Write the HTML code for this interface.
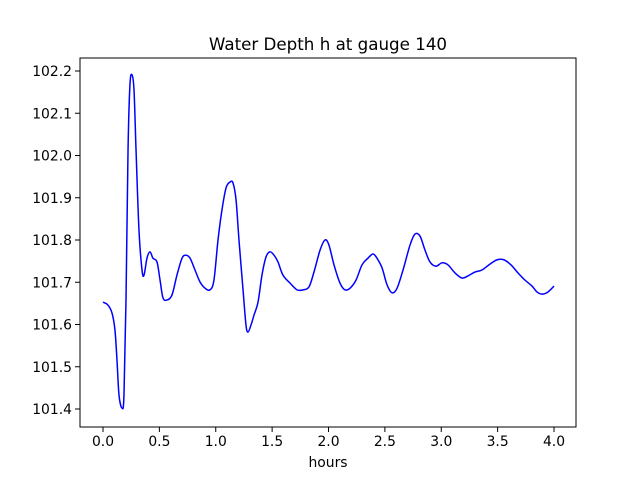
<!DOCTYPE html>
<html><head><meta charset="utf-8"><style>
body{margin:0;background:#fff;font-family:"Liberation Sans","DejaVu Sans",sans-serif;}
text{font-family:"DejaVu Sans","Liberation Sans",sans-serif;}
</style></head><body>
<svg id="chart" width="640" height="480" xmlns="http://www.w3.org/2000/svg">
<rect width="640" height="480" fill="#fff"/>
<text x="328" y="50" text-anchor="middle" font-size="16.7">Water Depth h at gauge 140</text>
<text x="328" y="467" text-anchor="middle" font-size="13.9">hours</text>
<g id="plot"></g>
<rect x="80" y="58" width="496" height="369" fill="none" stroke="#000" stroke-width="1"/>
</svg>
<script>
const hours=[0,.044,.080,.106,.124,.142,.169,.186,.204,.222,.239,.257,.275,.293,.319,.346,.364,.390,.417,.443,.479,.506,.532,.568,.612,.656,.701,.736,.772,.816,.860,.905,.949,.984,1.020,1.055,1.091,1.126,1.153,1.180,1.206,1.242,1.268,1.286,1.313,1.339,1.375,1.410,1.446,1.481,1.517,1.552,1.596,1.659,1.721,1.774,1.827,1.871,1.925,1.969,2.004,2.049,2.102,2.146,2.191,2.244,2.297,2.350,2.395,2.430,2.475,2.519,2.563,2.608,2.661,2.723,2.767,2.812,2.856,2.900,2.953,3.007,3.060,3.122,3.184,3.237,3.299,3.361,3.432,3.494,3.557,3.619,3.681,3.743,3.805,3.849,3.894,3.947,4.0];
const depth=[101.653,101.646,101.627,101.587,101.516,101.433,101.402,101.433,101.658,102.013,102.167,102.191,102.155,102.013,101.824,101.729,101.717,101.757,101.772,101.757,101.748,101.705,101.663,101.658,101.670,101.717,101.757,101.764,101.757,101.729,101.701,101.686,101.682,101.705,101.800,101.871,101.923,101.937,101.935,101.895,101.800,101.682,101.599,101.582,101.599,101.622,101.653,101.717,101.760,101.772,101.764,101.748,101.717,101.698,101.682,101.682,101.689,101.724,101.776,101.800,101.788,101.741,101.698,101.682,101.686,101.705,101.741,101.757,101.767,101.757,101.734,101.694,101.675,101.686,101.729,101.788,101.814,101.809,101.776,101.748,101.738,101.746,101.741,101.722,101.710,101.715,101.724,101.729,101.743,101.753,101.753,101.741,101.722,101.705,101.691,101.677,101.672,101.677,101.691];
const xTicks=[0,0.5,1,1.5,2,2.5,3,3.5,4];
const xTickLabels=["0.0","0.5","1.0","1.5","2.0","2.5","3.0","3.5","4.0"];
const yTicks=[101.4,101.5,101.6,101.7,101.8,101.9,102.0,102.1,102.2];
const yTickLabels=["101.4","101.5","101.6","101.7","101.8","101.9","102.0","102.1","102.2"];
const X=h=>103+h*112.75;
const Y=v=>71+(102.2-v)*422.5;
const NS="http://www.w3.org/2000/svg";
const g=document.getElementById('plot');
function mk(t,a){const e=document.createElementNS(NS,t);for(const k in a)e.setAttribute(k,a[k]);g.appendChild(e);return e;}
xTicks.forEach((t,i)=>{
 const l=mk('line',{x1:X(t),x2:X(t),y1:427,y2:432,stroke:'#000'});
 
 
 const s=mk('text',{x:X(t),y:446,'text-anchor':'middle','font-size':13.9});
 s.textContent=xTickLabels[i];
 
 
});
yTicks.forEach((t,i)=>{
 const l=mk('line',{x1:75,x2:80,y1:Y(t),y2:Y(t),stroke:'#000'});
 
 
 const s=mk('text',{x:72,y:Y(t)+5,'text-anchor':'end','font-size':13.9});
 s.textContent=yTickLabels[i];
 
 
});
const pts=hours.map((h,i)=>[X(h),Y(depth[i])]);
let d='M'+pts[0][0]+','+pts[0][1];
for(let i=0;i<pts.length-1;i++){
 const p0=pts[Math.max(0,i-1)],p1=pts[i],p2=pts[i+1],p3=pts[Math.min(pts.length-1,i+2)];
 d+=' C'+(p1[0]+(p2[0]-p0[0])/6)+','+(p1[1]+(p2[1]-p0[1])/6)+' '+(p2[0]-(p3[0]-p1[0])/6)+','+(p2[1]-(p3[1]-p1[1])/6)+' '+p2[0]+','+p2[1];
}
const path=mk('path',{d:d,fill:'none',stroke:'#0000ff','stroke-width':1.5});


</script>
</body></html>
